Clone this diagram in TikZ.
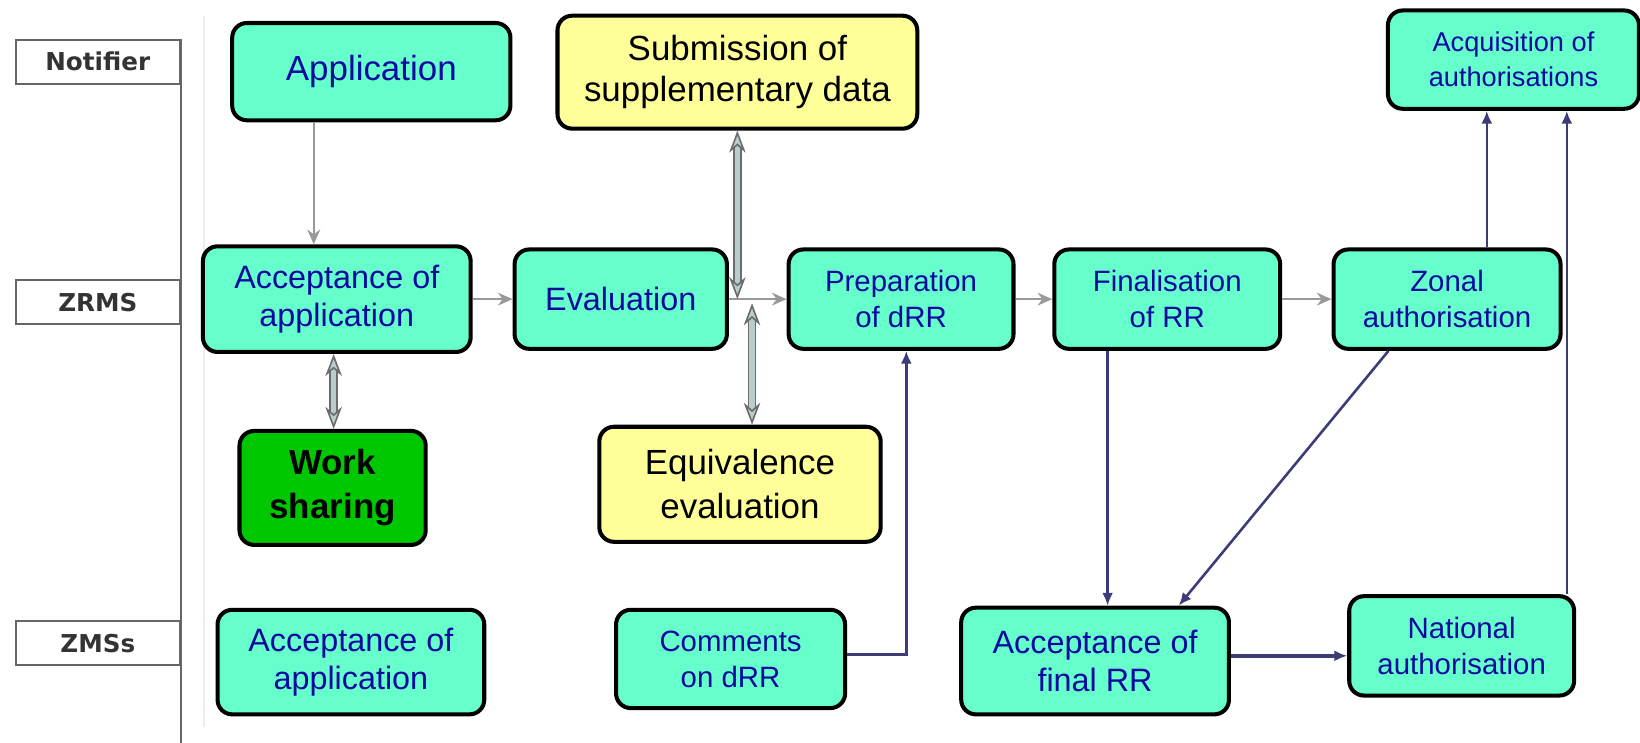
\documentclass[tikz,border=0pt]{standalone}
\usepackage{fontspec}
\setmainfont{Liberation Sans}
\newfontfamily\lanefont{DejaVu Sans}
\usetikzlibrary{arrows.meta}
\definecolor{aqua}{RGB}{102,255,204}
\definecolor{paleyellow}{RGB}{255,255,153}
\definecolor{workgreen}{RGB}{0,200,0}
\definecolor{txtblue}{RGB}{10,10,160}
\definecolor{navy}{RGB}{60,60,120}
\definecolor{dblfill}{RGB}{185,205,205}
\begin{document}
\begin{tikzpicture}[node distance=2cm,
    box/.style={draw=black, line width=1.1pt, rounded corners=4pt, fill=aqua, text=txtblue, align=center, inner sep=0pt},
    note/.style={box, fill=paleyellow, text=black},
    big/.style={font=\fontsize{8.8}{10.5}\selectfont},
    small/.style={font=\fontsize{8}{9.8}\selectfont},
    lane/.style={draw=gray!80!black, line width=0.6pt, text=black!80, font=\lanefont\bfseries\fontsize{6.7}{8}\selectfont, minimum width=1.57cm, minimum height=0.42cm, inner sep=0pt},
    flow/.style={draw=gray!80, line width=0.6pt, -{Stealth[length=4pt,width=3.5pt]}},
    link/.style={draw=navy, line width=0.7pt, -{Latex[length=3.5pt,width=3pt]}},
    dbl/.style={draw=gray!85!black, line width=0.45pt, double=dblfill, double distance=1.5pt, {Stealth[length=6pt,width=4.5pt,fill=dblfill]}-{Stealth[length=6pt,width=4.5pt,fill=dblfill]}}]
    \useasboundingbox (0,0) rectangle (15.68,-7.10);

    % Lanes
    \node[lane] (notifier) at (0.935,-0.59) {Notifier};
    \node[lane] (zrms) at (0.935,-2.89) {ZRMS};
    \node[lane] (zmss) at (0.935,-6.15) {ZMSs};
    \draw[gray!80!black, line width=0.6pt] (notifier.north east) -- (notifier.north east |- 0,-7.10);
    \draw[gray!15, line width=0.5pt] (1.95,-0.15) -- (1.95,-6.95);

    % Nodes
    \node[box, big, minimum width=2.56cm, minimum height=1.01cm] (accA) at (3.22,-2.86) {Acceptance of\\application};
    \node[box, big, right of=accA, node distance=2.715cm, minimum width=2.03cm, minimum height=0.95cm] (eval) {Evaluation};
    \node[box, small, right of=eval, node distance=2.68cm, minimum width=2.15cm, minimum height=0.95cm] (prep) {Preparation\\of dRR};
    \node[box, small, right of=prep, node distance=2.545cm, minimum width=2.16cm, minimum height=0.95cm] (final) {Finalisation\\of RR};
    \node[box, small, right of=final, node distance=2.675cm, minimum width=2.17cm, minimum height=0.95cm] (zonal) {Zonal\\authorisation};
    \node[box, font=\fontsize{9.5}{11.3}\selectfont, above of=accA, node distance=2.175cm, xshift=0.33cm, minimum width=2.66cm, minimum height=0.93cm] (app) {Application};
    \node[note, font=\fontsize{9.5}{11.3}\selectfont, above of=eval, node distance=2.17cm, xshift=1.115cm, minimum width=3.44cm, minimum height=1.08cm] (subm) {Submission of\\supplementary data};
    \node[box, font=\fontsize{7.4}{9.6}\selectfont, above of=zonal, node distance=2.29cm, xshift=0.635cm, minimum width=2.40cm, minimum height=0.94cm] (acq) {Acquisition of\\authorisations};
    \node[box, fill=workgreen, text=black, font=\bfseries\fontsize{9.5}{12}\selectfont, below of=accA, node distance=1.805cm, xshift=-0.04cm, minimum width=1.78cm, minimum height=1.09cm] (work) {Work\\sharing};
    \node[note, font=\fontsize{9.5}{12}\selectfont, below of=eval, node distance=1.77cm, xshift=1.14cm, minimum width=2.69cm, minimum height=1.10cm] (equiv) {Equivalence\\evaluation};
    \node[box, big, below of=work, node distance=1.665cm, xshift=0.175cm, minimum width=2.55cm, minimum height=1.00cm] (accZ) {Acceptance of\\application};
    \node[box, small, below of=equiv, node distance=1.67cm, xshift=-0.09cm, minimum width=2.19cm, minimum height=0.94cm] (comm) {Comments\\on dRR};
    \node[box, big, below of=final, node distance=3.46cm, xshift=-0.69cm, minimum width=2.56cm, minimum height=1.02cm] (accF) {Acceptance of\\final RR};
    \node[box, small, below of=zonal, node distance=3.315cm, xshift=0.14cm, minimum width=2.15cm, minimum height=0.95cm] (natl) {National\\authorisation};

    % Arrows
    \coordinate (appout) at ([xshift=-0.55cm]app.south);
    \draw[flow] (appout) -- (appout |- accA.north);
    \draw[flow] (accA) -- (eval);
    \draw[flow] (eval) -- (prep);
    \draw[flow] (prep) -- (final);
    \draw[flow] (final) -- (zonal);

    \coordinate (wsin) at ([xshift=0.01cm]work.north);
    \draw[dbl] (wsin |- accA.south) -- (wsin);
    \coordinate (submout) at (subm.south);
    \draw[dbl] (submout) -- (submout |- eval.east);
    \coordinate (equivin) at ([xshift=0.115cm]equiv.north);
    \draw[dbl] ([yshift=-0.04cm]equivin |- eval.east) -- (equivin);

    \coordinate (commout) at ([yshift=0.04cm]comm.east);
    \coordinate (prepin) at ([xshift=0.05cm]prep.south);
    \draw[link] (commout) -| (prepin);
    \coordinate (finout) at ([xshift=-0.57cm]final.south);
    \draw[link] (finout) -- (finout |- accF.north);
    \draw[link] ([xshift=-0.56cm]zonal.south) -- ([xshift=0.80cm]accF.north);
    \coordinate (accFout) at ([yshift=0.05cm]accF.east);
    \draw[link, line width=1pt] (accFout) -- (accFout -| natl.west);
    \coordinate (zonalout) at ([xshift=0.38cm]zonal.north);
    \draw[link] (zonalout) -- (zonalout |- acq.south);
    \coordinate (natlout) at ([xshift=1.005cm]natl.north);
    \draw[link] (natlout) -- (natlout |- acq.south);
\end{tikzpicture}
\end{document}
